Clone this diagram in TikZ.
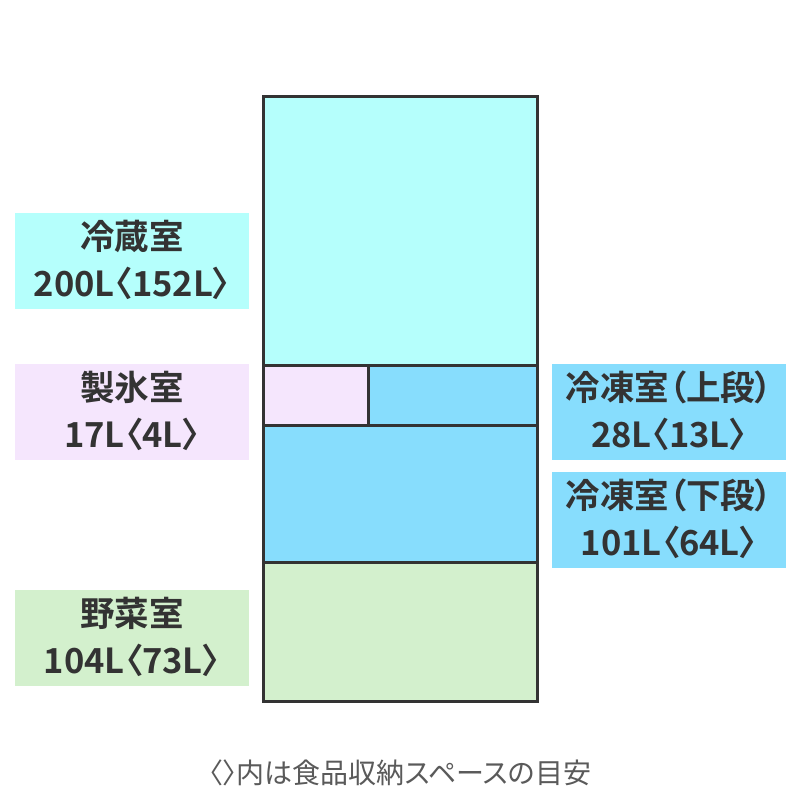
\documentclass[tikz,border=0pt]{standalone}
\usepackage{fontspec}
\newfontfamily\cjk[RawFeature=+palt]{Noto Sans CJK JP}
\newfontfamily\cjkb[RawFeature=+palt]{Noto Sans CJK JP Bold}
\definecolor{fridge}{HTML}{B5FFFC}
\definecolor{freezer}{HTML}{87DDFD}
\definecolor{ice}{HTML}{F5E6FD}
\definecolor{veg}{HTML}{D3F0CD}
\definecolor{ink}{HTML}{333333}
\definecolor{note}{HTML}{5A5A5A}
\tikzset{
  sect/.style={draw=ink, line width=3pt},
  lbl/.style={font=\cjkb\fontsize{34.5}{47}\selectfont, text=ink, align=center},
}
\begin{document}
\begin{tikzpicture}[x=1pt,y=1pt]
\useasboundingbox (0,0) rectangle (800,800);
\fill[white] (0,0) rectangle (800,800);
% label boxes
\fill[fridge] (15,491) rectangle (249,587);
\fill[ice] (15,340) rectangle (249,436);
\fill[veg] (15,114) rectangle (249,210);
\fill[freezer] (552,340) rectangle (786,436);
\fill[freezer] (552,232) rectangle (786,328);
\node[lbl] (l1) at (132,540) {冷蔵室\\200L〈152L〉};
\node[lbl] (l2) at (132,389) {製氷室\\17L〈4L〉};
\node[lbl] (l3) at (132,163) {野菜室\\104L〈73L〉};
\node[lbl] (r1) at (669,389) {冷凍室（上段）\\28L〈13L〉};
\node[lbl] (r2) at (669,281) {冷凍室（下段）\\101L〈64L〉};
% fridge sections
\fill[fridge] (263,434) rectangle (537,703);
\fill[ice] (263,374) rectangle (368,434);
\fill[freezer] (368,374) rectangle (537,434);
\fill[freezer] (263,237) rectangle (537,374);
\fill[veg] (263,98) rectangle (537,237);
\draw[sect] (263,434) -- (537,434);
\draw[sect] (263,374) -- (537,374);
\draw[sect] (263,237) -- (537,237);
\draw[sect] (368,374) -- (368,434);
\draw[sect] (263,98) rectangle (537,703);
\node[font=\cjk\fontsize{28}{30}\selectfont, text=note] (foot) at (400,27) {〈〉内は食品収納スペースの目安};
\end{tikzpicture}
\end{document}
